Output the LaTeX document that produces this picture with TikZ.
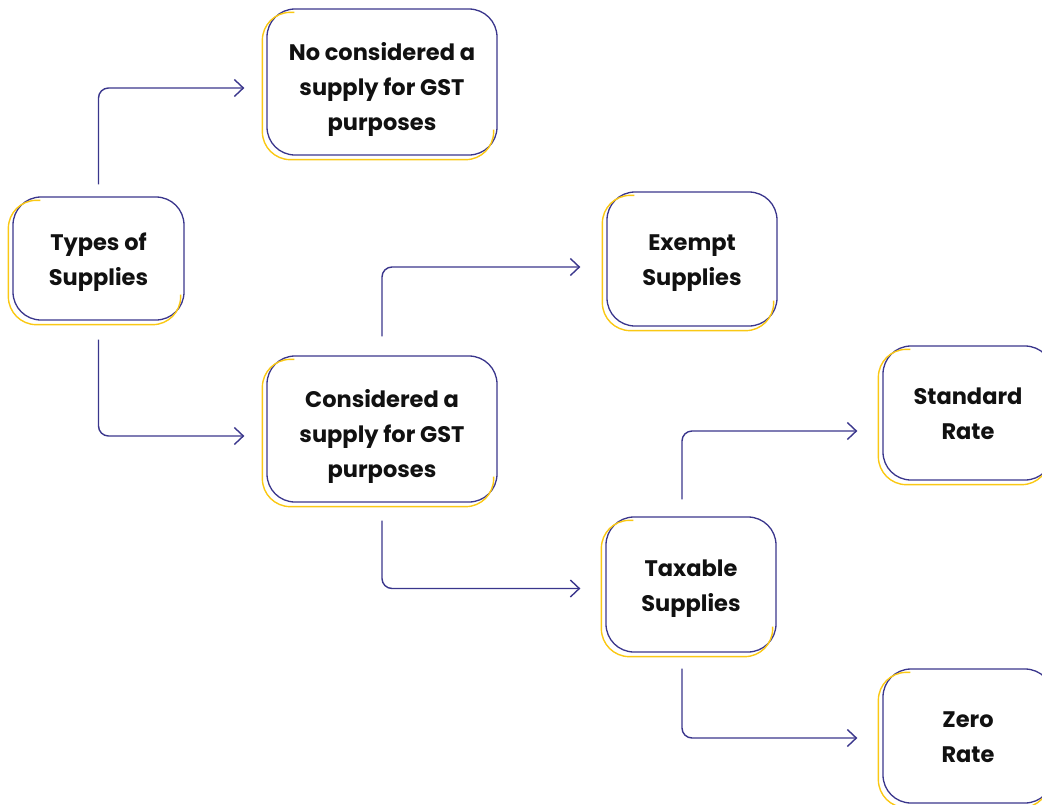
\documentclass[tikz,border=0pt]{standalone}
\usepackage{fontspec}
\setmainfont{Poppins}
\usetikzlibrary{arrows.meta,calc}
\definecolor{ink}{RGB}{58,54,140}
\definecolor{yel}{RGB}{250,200,20}
\definecolor{txt}{RGB}{17,17,17}
\newcommand\tstrut[1]{\rule{0pt}{#1}}
\tikzset{
  box/.style={draw=ink, line width=1.3pt, rounded corners=28pt, align=center,
    font=\fontsize{22.5}{35}\selectfont\bfseries, text=txt, inner sep=0pt,
    execute at end node={\rule[-8pt]{0pt}{0pt}}},
  yshade/.style={draw=yel, line width=1.4pt, rounded corners=28pt},
  conn/.style={draw=ink, line width=1.4pt, rounded corners=10pt,
    -{Straight Barb[length=9pt,width=17pt,line width=1.4pt]}},
}
\newcommand\yshadow[1]{%
  \draw[yshade] ($(#1.north west)+(28,4)$) -- ($(#1.north west)+(-4,4)$)
    -- ($(#1.south west)+(-4,4)$) -- ($(#1.south east)+(-4,4)$)
    -- ($(#1.south east)+(-4,-26)$);}
\begin{document}
\begin{tikzpicture}[x=1pt,y=-1pt]
\useasboundingbox (0,0) rectangle (1042,804);
\clip (0,0) rectangle (1042,804);
\node[box, minimum width=171pt, minimum height=123pt] (types) at (98.5,258.5) {\tstrut{27pt}Types of\\Supplies};
\node[box, minimum width=230pt, minimum height=146pt] (no) at (382,82) {\tstrut{35pt}No considered a\\supply for GST\\purposes};
\node[box, minimum width=230pt, minimum height=146pt] (cons) at (382,429) {\tstrut{35pt}Considered a\\supply for GST\\purposes};
\node[box, minimum width=170pt, minimum height=134pt] (exempt) at (692,259) {\tstrut{25pt}Exempt\\Supplies};
\node[box, minimum width=170pt, minimum height=135pt] (tax) at (691,584.5) {\tstrut{26pt}Taxable\\Supplies};
\node[box, minimum width=170pt, minimum height=134pt] (std) at (968,413) {\tstrut{25pt}Standard\\Rate};
\node[box, minimum width=170pt, minimum height=134pt] (zero) at (968,736) {\tstrut{26pt}Zero\\Rate};
\foreach \n in {types,no,cons,exempt,tax,std,zero} {\yshadow{\n}}
\draw[conn] ($(types.north)+(0,-12)$) |- ($(no.west)+(-22,6)$);
\draw[conn] ($(types.south)+(0,19)$) |- ($(cons.west)+(-22,7)$);
\draw[conn] ($(cons.north)+(0,-19)$) |- ($(exempt.west)+(-26,8)$);
\draw[conn] ($(cons.south)+(0,18)$) |- ($(tax.west)+(-25,4)$);
\draw[conn] ($(tax.north)+(-9,-17)$) |- ($(std.west)+(-25,18)$);
\draw[conn] ($(tax.south)+(-9,16)$) |- ($(zero.west)+(-25,2)$);
\end{tikzpicture}
\end{document}
